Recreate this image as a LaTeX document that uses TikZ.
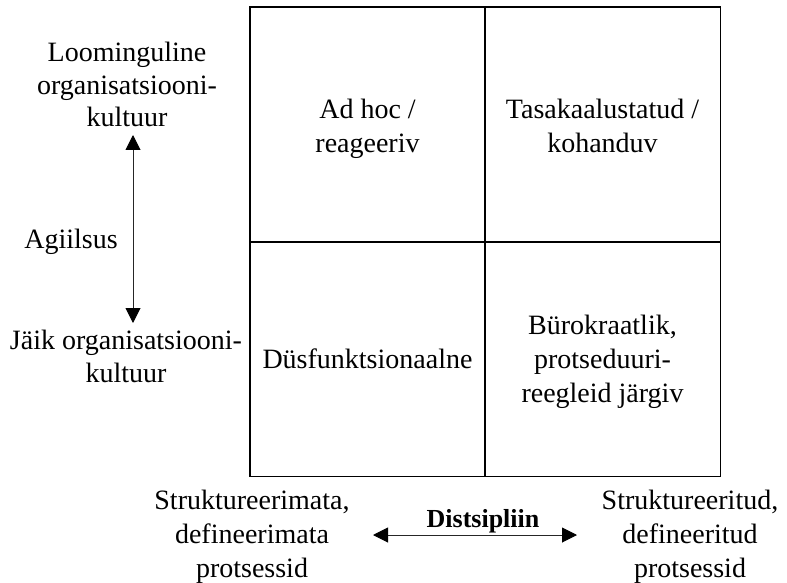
\documentclass[tikz,border=0pt]{standalone}
\usepackage{fontspec}
\setmainfont{Liberation Serif}
\usetikzlibrary{arrows.meta}
\begin{document}
\begin{tikzpicture}[x=1pt,y=-1pt,
  % multi-line labels are placed by the baseline of their last line
  lbl/.style={inner sep=0pt, align=center, anchor=base,
    font=\fontsize{28}{34}\selectfont},
  sidelbl/.style={lbl, font=\fontsize{28}{32.5}\selectfont},
  axislbl/.style={inner sep=0pt, anchor=base,
    font=\fontsize{26}{30}\selectfont\bfseries},
  frame/.style={draw=black, line width=1.4pt},
  axis/.style={draw=black!85, line width=1pt,
    {Triangle[length=15pt,width=15pt,color=black]}-{Triangle[length=15pt,width=15pt,color=black]}},
]
\useasboundingbox (0,0) rectangle (787,583);

% the 2x2 matrix
\coordinate (tl) at (250,7);
\coordinate (br) at (720.5,476.5);
\coordinate (mt) at (485,7);
\coordinate (mb) at (485,476.5);
\coordinate (ml) at (250,242);
\coordinate (mr) at (720.5,242);
\draw[frame] (tl) rectangle (br);
\draw[frame] (mt) -- (mb);
\draw[frame] (ml) -- (mr);

% quadrant labels
\node[lbl] (adhoc) at (367.5,153) {Ad hoc /\\reageeriv};
\node[lbl] (tasa)  at (602.5,153) {Tasakaalustatud /\\kohanduv};
\node[lbl] (dys)   at (367.5,368) {Düsfunktsionaalne};
\node[lbl] (buro)  at (602.5,402) {Bürokraatlik,\\protseduuri-\\reegleid järgiv};

% vertical axis: agility
\node[sidelbl] (loom) at (127,127) {Loominguline\\organisatsiooni-\\kultuur};
\node[sidelbl] (jaik) at (126,382) {Jäik organisatsiooni-\\kultuur};
\node[lbl] (agil) at (71,248) {Agiilsus};
\coordinate (agU) at (133,135);
\coordinate (agD) at (133,323);
\draw[axis] (agU) -- (agD);

% horizontal axis: discipline
\node[lbl] (unstr) at (252,577) {Struktureerimata,\\defineerimata\\protsessid};
\node[lbl] (str)   at (690,577) {Struktureeritud,\\defineeritud\\protsessid};
\node[axislbl] (dist) at (483,527) {Distsipliin};
\coordinate (diL) at (373,535);
\coordinate (diR) at (577,535);
\draw[axis] (diL) -- (diR);
\end{tikzpicture}
\end{document}
